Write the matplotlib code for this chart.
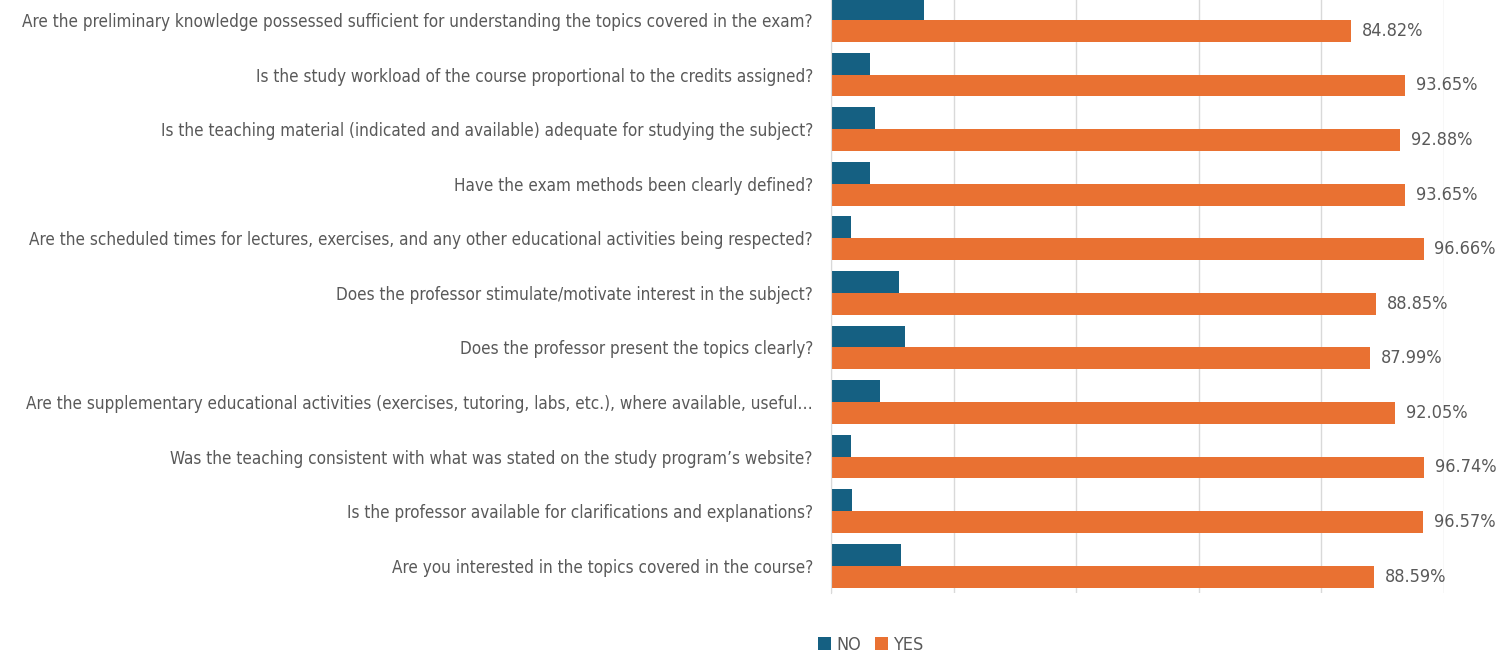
import matplotlib
matplotlib.use("Agg")
import matplotlib.pyplot as plt
from matplotlib import font_manager
import numpy as np

questions = [
    "Are the preliminary knowledge possessed sufficient for understanding the topics covered in the exam?",
    "Is the study workload of the course proportional to the credits assigned?",
    "Is the teaching material (indicated and available) adequate for studying the subject?",
    "Have the exam methods been clearly defined?",
    "Are the scheduled times for lectures, exercises, and any other educational activities being respected?",
    "Does the professor stimulate/motivate interest in the subject?",
    "Does the professor present the topics clearly?",
    "Are the supplementary educational activities (exercises, tutoring, labs, etc.), where available, useful\u2026",
    "Was the teaching consistent with what was stated on the study program\u2019s website?",
    "Is the professor available for clarifications and explanations?",
    "Are you interested in the topics covered in the course?",
]
yes_pct = [84.82, 93.65, 92.88, 93.65, 96.66, 88.85, 87.99, 92.05, 96.74, 96.57, 88.59]
no_pct = [15.18, 6.35, 7.12, 6.35, 3.34, 11.15, 12.01, 7.95, 3.26, 3.43, 11.41]
series_names = ["NO", "YES"]

# pick a narrow font if one is installed
fl = font_manager.fontManager.ttflist
names = {f.name for f in fl}
fam, stretch = None, "normal"
if "Liberation Sans Narrow" in names:
    fam = "Liberation Sans Narrow"
else:
    cands = [f for f in fl if str(f.stretch) in ("condensed", "semi-condensed", "extra-condensed")
             and f.style == "normal" and f.weight in (400, "normal", "regular")]
    pref = ["Roboto", "Open Sans", "Noto Sans", "Lato", "Inter", "DejaVu Sans"]
    cands.sort(key=lambda f: pref.index(f.name) if f.name in pref else 99)
    if cands:
        fam, stretch = cands[0].name, cands[0].stretch
    else:
        fam = "Liberation Sans"
plt.rcParams['font.family'] = [fam, 'DejaVu Sans']
plt.rcParams['font.stretch'] = stretch

W, H = 1501, 654
fig = plt.figure(figsize=(W / 100, H / 100), dpi=100)
renderer = fig.canvas.get_renderer()


def fit_size(s, target_px, base=12.0, cap=13.0):
    t = fig.text(0, 0, s, fontsize=base)
    w = t.get_window_extent(renderer).width
    t.remove()
    return min(cap, base * target_px / w)


lab_size = fit_size(questions[0], 792)
val_size = fit_size("84.82%", 62)

x0, x1 = 831, 1444
ytop, ybot = -7.3, 593
ax = fig.add_axes([x0 / W, (H - ybot) / H, (x1 - x0) / W, (ybot - ytop) / H])

n = len(questions)
pos = np.arange(n)
bh = 0.4
c_no, c_yes = "#156082", "#E97132"
ax.barh(pos - bh / 2, no_pct, height=bh, color=c_no, label=series_names[0])
bars = ax.barh(pos + bh / 2, yes_pct, height=bh, color=c_yes, label=series_names[1])
for b, v in zip(bars, yes_pct):
    ax.annotate(f"{v:.2f}%", (b.get_width(), b.get_y() + b.get_height() / 2),
                xytext=(7.9, 0), textcoords="offset points", va="center", ha="left",
                fontsize=val_size, color="#595959")

ax.set_xlim(0, 100)
ax.set_ylim(n - 0.5, -0.5)
ax.set_xticks([0, 20, 40, 60, 80, 100])
ax.set_xticklabels([])
ax.tick_params(axis='x', length=0)
ax.xaxis.grid(True, color="#d9d9d9", linewidth=1)
ax.set_axisbelow(True)
ax.set_yticks(pos)
ax.set_yticklabels(questions, fontsize=lab_size, color="#595959")
ax.tick_params(axis='y', length=0, pad=13)
for s in ["top", "right", "bottom"]:
    ax.spines[s].set_visible(False)
ax.spines["left"].set_color("#d9d9d9")

fig.legend(loc="center", bbox_to_anchor=(871 / W, (H - 645) / H), ncol=2, frameon=False,
           fontsize=val_size, handlelength=0.7, handleheight=0.7, handletextpad=0.3,
           columnspacing=0.8, labelcolor="#595959")

fig.savefig("out.png", dpi=100)
